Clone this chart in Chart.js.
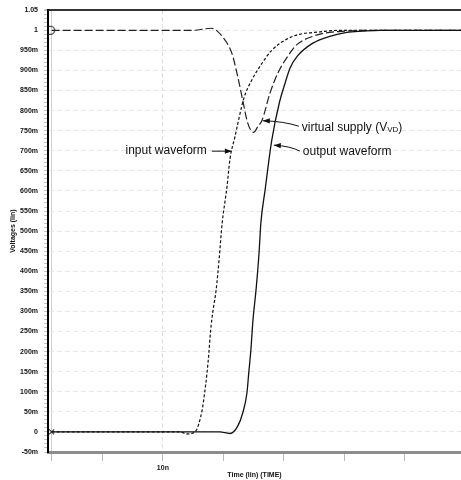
<!DOCTYPE html>
<html><head><meta charset="utf-8">
<script src="https://cdn.jsdelivr.net/npm/chart.js@4.4.1/dist/chart.umd.min.js"></script>
<style>html,body{margin:0;padding:0;background:#fff;overflow:hidden}canvas{display:block}</style>
</head><body><canvas id="c" width="461" height="480" style="width:461px;height:480px"></canvas>
<script>
// ---- data (time in ns, voltage in V) ----
const inputTime  = [8.16, 10.28, 10.40, 10.53, 10.65, 10.69, 10.73, 10.76, 10.79, 10.83, 10.88, 10.93, 10.98, 11.03, 11.06, 11.11, 11.19, 11.34, 11.47, 11.64, 11.80, 12.05, 12.26, 12.60, 12.93, 14.93];
const inputVolts = [0, 0, -0.005, 0, 0.055, 0.097, 0.147, 0.196, 0.254, 0.303, 0.353, 0.43, 0.52, 0.577, 0.61, 0.68, 0.734, 0.831, 0.876, 0.918, 0.950, 0.978, 0.990, 0.996, 1.0, 1.0];

const virtualTime  = [8.16, 10.50, 10.80, 10.99, 11.14, 11.24, 11.32, 11.39, 11.44, 11.50, 11.57, 11.64, 11.77, 11.90, 12.10, 12.22, 12.48, 12.76, 13.04, 13.31, 14.93];
const virtualVolts = [1.0, 1.0, 1.005, 0.983, 0.943, 0.883, 0.826, 0.776, 0.755, 0.746, 0.760, 0.776, 0.843, 0.893, 0.943, 0.965, 0.985, 0.995, 0.998, 1.0, 1.0];

const outputTime  = [8.16, 10.94, 11.11, 11.24, 11.32, 11.39, 11.42, 11.455, 11.49, 11.54, 11.59, 11.62, 11.69, 11.80, 11.93, 12.02, 12.10, 12.22, 12.48, 12.76, 13.04, 13.31, 13.59, 14.93];
const outputVolts = [0, 0, -0.004, 0.015, 0.047, 0.097, 0.147, 0.204, 0.279, 0.353, 0.445, 0.52, 0.602, 0.726, 0.822, 0.868, 0.905, 0.935, 0.968, 0.985, 0.995, 0.998, 1.0, 1.0];

// ---- ticks ----
const xTickValues = [8.16, 9, 10, 11, 12, 13, 14];
const xTickLabels = ['', '', '10n', '', '', '', ''];
const yTickLabels = ['-50m','0','50m','100m','150m','200m','250m','300m','350m','400m','450m','500m',
                     '550m','600m','650m','700m','750m','800m','850m','900m','950m','1','1.05'];

const toXY = (ts, vs) => ts.map((t, i) => ({x: t, y: vs[i]}));

// "D" marker for virtual supply
const dMark = document.createElement('canvas');
dMark.width = 9; dMark.height = 11;
(function(){
  const g = dMark.getContext('2d');
  g.strokeStyle = '#222'; g.lineWidth = 1.1;
  g.beginPath(); g.moveTo(1, 1.5); g.lineTo(3.5, 1.5);
  g.arc(3.5, 5.5, 4, -Math.PI/2, Math.PI/2); g.lineTo(1, 9.5); g.stroke();
})();

const FONT = '"Liberation Sans", Arial, Helvetica, sans-serif';

const notes = {
  id: 'notes',
  afterDatasetsDraw(chart) {
    const {ctx, scales: {x, y}} = chart;
    ctx.save();
    ctx.fillStyle = '#111'; ctx.strokeStyle = '#111'; ctx.lineWidth = 1;
    ctx.font = '12px ' + FONT; ctx.textBaseline = 'middle';
    function arrow(x0, y0, cx, cy, x1, y1) {
      ctx.beginPath(); ctx.moveTo(x0, y0); ctx.quadraticCurveTo(cx, cy, x1, y1); ctx.stroke();
      const a = Math.atan2(y1 - cy, x1 - cx), L = 7, W = 2.6;
      ctx.beginPath();
      ctx.moveTo(x1, y1);
      ctx.lineTo(x1 - L*Math.cos(a) + W*Math.sin(a), y1 - L*Math.sin(a) - W*Math.cos(a));
      ctx.lineTo(x1 - L*Math.cos(a) - W*Math.sin(a), y1 - L*Math.sin(a) + W*Math.cos(a));
      ctx.closePath(); ctx.fill();
    }
    // input waveform
    let tx = x.getPixelForValue(11.157), ty = y.getPixelForValue(0.699);
    ctx.textAlign = 'right';
    ctx.fillText('input waveform', tx - 26, ty);
    arrow(tx - 21, ty, tx - 12, ty, tx - 1, ty);
    // virtual supply
    tx = x.getPixelForValue(11.636); ty = y.getPixelForValue(0.776);
    ctx.textAlign = 'left';
    let s = 'virtual supply (V';
    ctx.fillText(s, tx + 40, ty + 7);
    let w = ctx.measureText(s).width;
    ctx.font = '8px ' + FONT;
    ctx.fillText('VD', tx + 40 + w, ty + 10);
    let w2 = ctx.measureText('VD').width;
    ctx.font = '12px ' + FONT;
    ctx.fillText(')', tx + 40 + w + w2, ty + 7);
    arrow(tx + 37, ty + 6, tx + 22, ty + 1, tx + 1, ty + 0.5);
    // output waveform
    tx = x.getPixelForValue(11.818); ty = y.getPixelForValue(0.714);
    ctx.fillText('output waveform', tx + 30, ty + 7);
    arrow(tx + 27, ty + 6, tx + 18, ty + 1, tx + 1, ty);
    ctx.restore();
  }
};

const lineBase = {
  fill: false, cubicInterpolationMode: 'monotone', borderWidth: 1.2,
  pointHoverRadius: 0,
  pointRadius: c => c.dataIndex === 0 ? 4 : 0
};

new Chart(document.getElementById('c'), {
  type: 'line',
  data: {
    datasets: [
      Object.assign({}, lineBase, {
        label: 'output waveform', data: toXY(outputTime, outputVolts),
        borderColor: '#111', borderWidth: 1.3, pointRadius: 0
      }),
      Object.assign({}, lineBase, {
        label: 'virtual supply', data: toXY(virtualTime, virtualVolts),
        borderColor: '#222', borderDash: [8, 3], pointStyle: dMark
      }),
      Object.assign({}, lineBase, {
        label: 'input waveform', data: toXY(inputTime, inputVolts),
        borderColor: '#111', borderDash: [3, 2], pointStyle: 'crossRot',
        pointBorderColor: '#333', pointBorderWidth: 1.1, pointRadius: c => c.dataIndex === 0 ? 3.5 : 0
      })
    ]
  },
  options: {
    animation: false, responsive: false, maintainAspectRatio: false, devicePixelRatio: 1,
    layout: {autoPadding: false, padding: {top: 10, left: 0, right: 0, bottom: 0}},
    plugins: {legend: {display: false}, tooltip: {enabled: false}},
    events: [],
    scales: {
      x: {
        type: 'linear', min: 8.1, max: 14.93,
        afterBuildTicks: s => { s.ticks = xTickValues.map(v => ({value: v})); },
        afterFit: s => { s.height = 28; s.paddingLeft = 0; s.paddingRight = 0; },
        ticks: {
          autoSkip: false, maxRotation: 0, padding: 3, color: '#111',
          font: {family: FONT, size: 7, weight: 'bold'},
          callback: (v, i) => xTickLabels[i]
        },
        grid: {
          color: c => (c.tick && Math.abs(c.tick.value - 10) < 1e-6) ? '#dcdcdc' : (c.index === 0 ? '#cfcfcf' : 'rgba(0,0,0,0)'),
          tickColor: '#bbb', tickLength: 9, lineWidth: 1
        },
        border: {
          display: true, color: '#8c8c8c', width: 3,
          dash: c => (c.tick && Math.abs(c.tick.value - 10) < 1e-6) ? [4, 3] : []
        },
        title: {
          display: true, text: 'Time (lin) (TIME)', color: '#111',
          font: {family: FONT, size: 7, weight: 'bold'}, padding: {top: 0, bottom: 1}
        }
      },
      y: {
        type: 'linear', min: -0.05, max: 1.05,
        afterBuildTicks: s => {
          const t = [];
          for (let k = -5; k <= 105; k++) t.push({value: k / 100});
          s.ticks = t;
        },
        afterFit: s => { s.width = 48; },
        ticks: {
          autoSkip: false, padding: 6, color: '#111',
          font: {family: FONT, size: 7, weight: 'bold'},
          callback: v => { const k = Math.round(v * 100); return (k % 5) ? '' : yTickLabels[(k + 5) / 5]; }
        },
        grid: {
          color: c => {
            if (!c.tick) return 'rgba(0,0,0,0)';
            const k = Math.round(c.tick.value * 100);
            if (k === 105) return '#333';
            return (k % 5 === 0 && k !== -5) ? '#e6e6e6' : 'rgba(0,0,0,0)';
          },
          lineWidth: c => (c.tick && Math.round(c.tick.value * 100) === 105) ? 2 : 1,
          tickColor: '#c4c4c4', tickLength: 4
        },
        border: {
          display: true, color: '#000', width: 2,
          dash: c => (c.tick && Math.round(c.tick.value * 100) !== 105) ? [5, 3] : []
        },
        title: {
          display: true, text: 'Voltages (lin)', color: '#111',
          font: {family: FONT, size: 7, weight: 'bold'}, padding: {top: 9, bottom: 0}
        }
      }
    }
  },
  plugins: [notes]
});
</script>
</body></html>
